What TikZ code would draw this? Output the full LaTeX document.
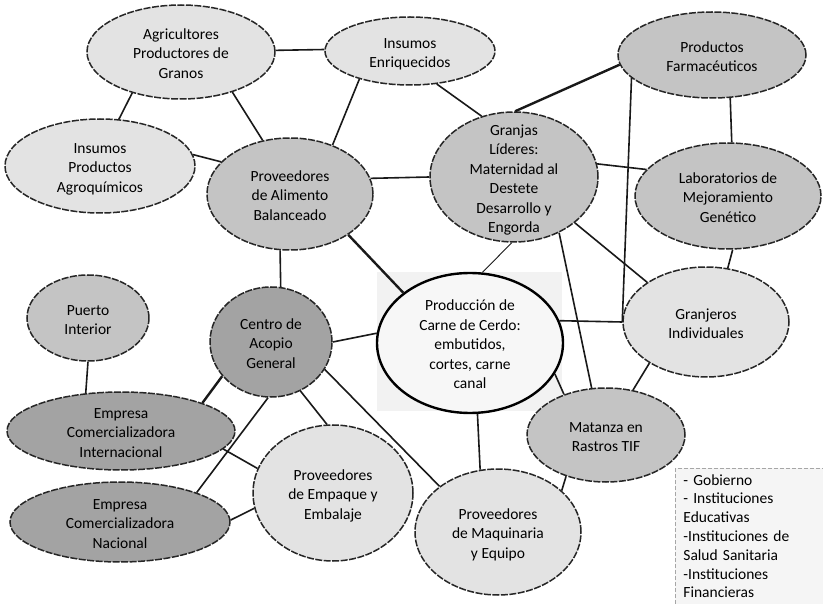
\documentclass[tikz,border=0pt]{standalone}
\usepackage{fontspec}
\setmainfont{Carlito}
\usetikzlibrary{shapes.geometric}
\newcommand{\ovaltext}[1]{\makebox[0pt]{\raisebox{-6.5pt}[0pt][0pt]{\begin{tabular}{@{}c@{}}#1\end{tabular}}}}
\begin{document}
\begin{tikzpicture}[x=1pt,y=-1pt,-]
            \tikzstyle{vertex}=[ellipse,draw=black!85,line width=1.5pt,dash pattern=on 7pt off 1.5pt,inner sep=0pt,font=\fontsize{15.5}{19.5}\selectfont]
            \tikzstyle{palefill}=[fill=gray!22]
            \tikzstyle{midfill}=[fill=gray!46]
            \tikzstyle{deepfill}=[fill=gray!72]
            \tikzstyle{edge}=[line width=1.6pt,black!90]
            \tikzstyle{notes}=[draw=gray!70,line width=0.8pt,dash pattern=on 4pt off 2pt,fill=gray!8,align=left,text width=150pt,inner xsep=8pt,inner ysep=6pt,font=\fontsize{15.5}{18.8}\selectfont]
                \useasboundingbox (0,0) rectangle (823,604);
                \fill[white] (0,0) rectangle (823,604);
                \fill[gray!10] (377,272) rectangle (562,411);

                \node[vertex,palefill,minimum width=188pt,minimum height=94pt] (V-1) at (181,52){\ovaltext{Agricultores\\Productores de\\Granos}};
                \node[vertex,palefill,minimum width=170pt,minimum height=68pt] (V-2) at (410,51){\ovaltext{Insumos\\Enriquecidos}};
                \node[vertex,palefill,minimum width=190pt,minimum height=94pt] (V-3) at (100,166){\ovaltext{Insumos\\Productos\\Agroquímicos}};
                \node[vertex,midfill,minimum width=166pt,minimum height=112pt] (V-4) at (290,194){\ovaltext{Proveedores\\de Alimento\\Balanceado}};

                \node[vertex,midfill,minimum width=168pt,minimum height=130pt] (V-5) at (514,177){\ovaltext{Granjas\\Líderes:\\Maternidad al\\Destete\\Desarrollo y\\Engorda}};
                \node[vertex,midfill,minimum width=188pt,minimum height=86pt] (V-6) at (712,55){\ovaltext{Productos\\Farmacéuticos}};
                \node[vertex,midfill,minimum width=186pt,minimum height=106pt] (V-7) at (728,196){\ovaltext{Laboratorios de\\Mejoramiento\\Genético}};
                \node[vertex,palefill,minimum width=166pt,minimum height=110pt] (V-8) at (706,322){\ovaltext{Granjeros\\Individuales}};

                \node[vertex,fill=gray!6,solid,draw=black,line width=2.4pt,minimum width=186pt,minimum height=140pt] (V-9) at (470,343){\ovaltext{Producción de\\Carne de Cerdo:\\embutidos,\\cortes, carne\\canal}};

                \node[vertex,midfill,minimum width=122pt,minimum height=86pt] (V-10) at (88,318){\ovaltext{Puerto\\Interior}};
                \node[vertex,deepfill,minimum width=122pt,minimum height=110pt] (V-11) at (271,342){\ovaltext{Centro de\\Acopio\\General}};
                \node[vertex,deepfill,minimum width=228pt,minimum height=78pt] (V-12) at (121,431){\ovaltext{Empresa\\Comercializadora\\Internacional}};
                \node[vertex,deepfill,minimum width=220pt,minimum height=80pt] (V-13) at (120,522){\ovaltext{Empresa\\Comercializadora\\Nacional}};
                \node[vertex,palefill,minimum width=160pt,minimum height=136pt] (V-14) at (333,493){\ovaltext{Proveedores\\de Empaque y\\Embalaje}};
                \node[vertex,palefill,minimum width=166pt,minimum height=126pt] (V-15) at (498,532){\ovaltext{Proveedores\\de Maquinaria\\y Equipo}};
                \node[vertex,midfill,minimum width=158pt,minimum height=94pt] (V-16) at (606,435){\ovaltext{Matanza en\\Rastros TIF}};

                \node[notes,anchor=north west] (notes) at (675,468){- Gobierno\\- Instituciones\\Educativas\\-Instituciones de\\Salud Sanitaria\\-Instituciones\\Financieras\\\mbox{}};

                \foreach \from/\fa/\to/\ta in {1/1/2/179, 1/220/3/68, 1/322/4/117, 2/209/4/49, 2/309/5/118, 3/7/4/155, 4/11/5/180, 4/260/11/80,
                        5/9/7/162, 5/323/8/146, 5/309/16/107, 6/293/7/86, 6/196/8/180, 7/275/8/68, 9/14/8/180, 9/340/16/136,
                        11/0/9/174, 9/276/15/106, 8/216/16/59, 16/226/15/33, 10/270/12/133, 11/267/13/21, 11/301/14/95,
                        11/333/15/142, 12/350/14/162, 13/1/14/191}
                    \draw[edge] (V-\from.\fa) -- (V-\to.\ta);

                \foreach \from/\fa/\to/\ta in {4/325/9/143, 5/89/6/186, 11/215/12/19}
                    \draw[edge,line width=2.4pt] (V-\from.\fa) -- (V-\to.\ta);

                \draw[edge,line width=0.9pt] (V-5.268) -- (V-9.80);
        \end{tikzpicture}
\end{document}
